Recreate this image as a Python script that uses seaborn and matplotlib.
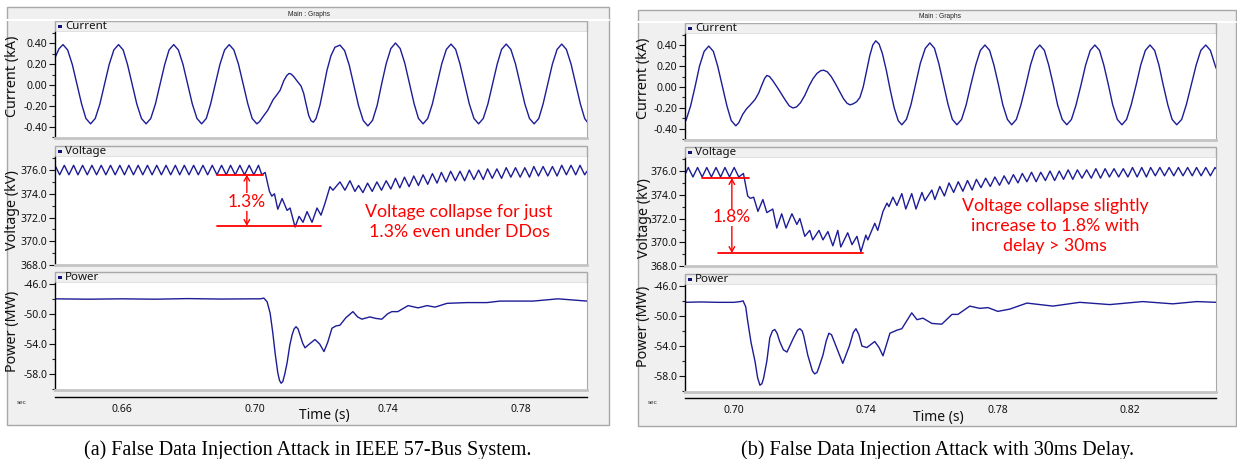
import numpy as np
import pandas as pd
import seaborn as sns
import matplotlib
matplotlib.use("Agg")
import matplotlib.pyplot as plt
from matplotlib.patches import Rectangle
from matplotlib.ticker import MultipleLocator, FormatStrFormatter

# ---------------- data ----------------
# Panel (a): FDI attack, IEEE 57-bus
cur_a_t = [0.6400, 0.6412,
           0.6424, 0.6438, 0.6452, 0.6466, 0.6480, 0.6493, 0.6507, 0.6521, 0.6535, 0.6549,
           0.6563, 0.6577, 0.6591, 0.6605, 0.6618, 0.6632, 0.6646, 0.6660, 0.6674, 0.6688,
           0.6702, 0.6716, 0.6730, 0.6743, 0.6757, 0.6771, 0.6785, 0.6799, 0.6813, 0.6827,
           0.6841, 0.6855, 0.6868, 0.6882, 0.6896, 0.6910, 0.6924, 0.6938, 0.6952, 0.6966,
           0.6980, 0.6993, 0.7007,
           0.7015, 0.7026, 0.7040, 0.7056, 0.7068, 0.7077, 0.7088, 0.7097, 0.7104, 0.7110,
           0.7118, 0.7130, 0.7140, 0.7148, 0.7155, 0.7163, 0.7170, 0.7177, 0.7185, 0.7197,
           0.7208, 0.7218, 0.7230, 0.7242,
           0.7257, 0.7271, 0.7285, 0.7299, 0.7313, 0.7327, 0.7341, 0.7355, 0.7369, 0.7382,
           0.7396, 0.7410, 0.7424, 0.7438, 0.7452, 0.7466, 0.7480, 0.7493, 0.7507, 0.7521,
           0.7535, 0.7549, 0.7563, 0.7577, 0.7591, 0.7605, 0.7618, 0.7632, 0.7646, 0.7660,
           0.7674, 0.7688, 0.7702, 0.7716, 0.7730, 0.7743, 0.7757, 0.7771, 0.7785, 0.7799,
           0.7813, 0.7827, 0.7841, 0.7855, 0.7868, 0.7882, 0.7896, 0.7910, 0.7924, 0.7938,
           0.7952, 0.7966, 0.7980, 0.7993, 0.8000]
cur_a_v = [0.260, 0.345,
           0.385, 0.334, 0.196, 0.008, -0.181, -0.319, -0.370, -0.319, -0.181, 0.008,
           0.196, 0.334, 0.385, 0.334, 0.196, 0.008, -0.181, -0.319, -0.370, -0.319,
           -0.181, 0.008, 0.196, 0.334, 0.385, 0.334, 0.196, 0.008, -0.181, -0.319,
           -0.370, -0.319, -0.181, 0.008, 0.196, 0.334, 0.385, 0.334, 0.196, 0.008,
           -0.181, -0.319, -0.370,
           -0.350, -0.300, -0.240, -0.140, -0.090, -0.050, 0.040, 0.090, 0.110, 0.105,
           0.080, 0.030, -0.010, -0.080, -0.180, -0.290, -0.340, -0.355, -0.320, -0.190,
           -0.020, 0.140, 0.280, 0.360,
           0.380, 0.328, 0.188, -0.005, -0.198, -0.338, -0.390, -0.337, -0.193, 0.005,
           0.203, 0.347, 0.400, 0.348, 0.208, 0.015, -0.178, -0.318, -0.370, -0.319,
           -0.180, 0.010, 0.200, 0.339, 0.390, 0.339, 0.200, 0.010, -0.180, -0.319,
           -0.370, -0.319, -0.180, 0.010, 0.200, 0.339, 0.390, 0.339, 0.200, 0.010,
           -0.180, -0.319, -0.370, -0.319, -0.180, 0.010, 0.200, 0.339, 0.390, 0.339,
           0.200, 0.010, -0.180, -0.319, -0.350]

volt_a_t = [0.6400, 0.6414, 0.6428, 0.6442, 0.6456, 0.6469, 0.6483, 0.6497, 0.6511, 0.6525,
            0.6539, 0.6553, 0.6567, 0.6581, 0.6595, 0.6609, 0.6622, 0.6636, 0.6650, 0.6664,
            0.6678, 0.6692, 0.6706, 0.6720, 0.6734, 0.6748, 0.6762, 0.6775, 0.6789, 0.6803,
            0.6817, 0.6831, 0.6845, 0.6859, 0.6873, 0.6887, 0.6901, 0.6915, 0.6928, 0.6942,
            0.6956, 0.6970, 0.6984, 0.6998, 0.7012, 0.7022, 0.7032, 0.7045, 0.7052, 0.7060,
            0.7070, 0.7083, 0.7098, 0.7107, 0.7122, 0.7134, 0.7146, 0.7158, 0.7173, 0.7188,
            0.7200, 0.7212, 0.7227, 0.7236, 0.7257, 0.7272, 0.7287, 0.7302, 0.7313, 0.7326,
            0.7340, 0.7354, 0.7368, 0.7382, 0.7396, 0.7410, 0.7424, 0.7437, 0.7451, 0.7465,
            0.7479, 0.7493, 0.7507, 0.7521, 0.7535, 0.7549, 0.7562, 0.7576, 0.7590, 0.7604,
            0.7618, 0.7632, 0.7646, 0.7660, 0.7674, 0.7688, 0.7701, 0.7715, 0.7729, 0.7743,
            0.7757, 0.7771, 0.7785, 0.7799, 0.7813, 0.7827, 0.7840, 0.7854, 0.7868, 0.7882,
            0.7896, 0.7910, 0.7924, 0.7938, 0.7952, 0.7966, 0.7979, 0.7993, 0.8000]
volt_a_v = [376.4, 375.6, 376.4, 375.6, 376.4, 375.6, 376.4, 375.6, 376.4, 375.6,
            376.4, 375.6, 376.4, 375.6, 376.4, 375.6, 376.4, 375.6, 376.4, 375.6,
            376.4, 375.6, 376.4, 375.6, 376.4, 375.6, 376.4, 375.6, 376.4, 375.6,
            376.4, 375.6, 376.4, 375.6, 376.4, 375.6, 376.4, 375.6, 376.4, 375.6,
            376.4, 375.6, 376.4, 375.6, 376.4, 375.6, 375.8, 374.2, 373.8, 374.0,
            372.7, 373.6, 372.6, 372.8, 371.2, 372.1, 371.6, 372.5, 371.6, 372.8,
            372.2, 373.2, 374.6, 374.3, 375.0, 374.3, 375.1, 374.2, 374.7, 374.1,
            374.9, 374.2, 375.0, 374.3, 375.1, 374.4, 375.3, 374.5, 375.4, 374.6,
            375.5, 374.7, 375.6, 374.8, 375.7, 374.9, 375.8, 375.0, 375.9, 375.1,
            375.9, 375.1, 376.0, 375.2, 376.0, 375.2, 376.1, 375.3, 376.1, 375.3,
            376.2, 375.4, 376.2, 375.4, 376.2, 375.4, 376.3, 375.5, 376.3, 375.5,
            376.3, 375.5, 376.4, 375.6, 376.4, 375.6, 376.4, 375.6, 375.9]

pow_a_t = [0.6400, 0.6500, 0.6600, 0.6700, 0.6800, 0.6900, 0.7000, 0.7018, 0.7028, 0.7038,
           0.7047, 0.7055, 0.7062, 0.7070, 0.7075, 0.7080, 0.7085, 0.7091, 0.7098, 0.7106,
           0.7113, 0.7119, 0.7125, 0.7131, 0.7137, 0.7145, 0.7152, 0.7165, 0.7182, 0.7196,
           0.7209, 0.7220, 0.7233, 0.7245, 0.7257, 0.7275, 0.7296, 0.7310, 0.7323, 0.7347,
           0.7365, 0.7383, 0.7400, 0.7413, 0.7431, 0.7462, 0.7492, 0.7519, 0.7543, 0.7579,
           0.7639, 0.7699, 0.7738, 0.7838, 0.7913, 0.8000]
pow_a_v = [-48.0, -48.05, -48.0, -48.05, -47.97, -48.03, -48.0, -48.0, -47.9, -48.4,
           -49.9, -52.5, -55.2, -57.8, -58.8, -59.2, -59.0, -58.0, -56.5, -54.2,
           -52.8, -52.0, -51.7, -52.0, -52.8, -53.9, -54.5, -54.0, -53.4, -54.0,
           -55.0, -53.8, -51.9, -51.6, -51.5, -50.5, -49.7, -50.4, -50.7, -50.4,
           -50.6, -50.7, -50.0, -49.7, -49.7, -48.9, -49.2, -48.9, -49.1, -48.6,
           -48.5, -48.5, -48.3, -48.3, -48.0, -48.3]

# Panel (b): FDI attack with 30 ms delay
cur_b_t = [0.6852, 0.6855, 0.6869, 0.6883, 0.6896, 0.6910, 0.6924, 0.6938, 0.6951, 0.6965,
           0.6979, 0.6992, 0.7006,
           0.7015, 0.7027, 0.7038, 0.7050, 0.7064, 0.7075, 0.7085, 0.7093, 0.7100, 0.7108,
           0.7118, 0.7133, 0.7145, 0.7157, 0.7168, 0.7179, 0.7190, 0.7202, 0.7215, 0.7228,
           0.7240, 0.7252, 0.7263, 0.7272, 0.7283, 0.7295, 0.7308, 0.7320, 0.7332, 0.7343,
           0.7352, 0.7362, 0.7372, 0.7382, 0.7392, 0.7402, 0.7412, 0.7421, 0.7430, 0.7440,
           0.7450, 0.7462, 0.7474, 0.7486, 0.7498, 0.7509,
           0.7523, 0.7537, 0.7551, 0.7565, 0.7580, 0.7594, 0.7608, 0.7621, 0.7635, 0.7649,
           0.7662, 0.7676, 0.7690, 0.7704, 0.7718, 0.7733, 0.7747, 0.7761, 0.7775, 0.7788,
           0.7802, 0.7815, 0.7829, 0.7842, 0.7856, 0.7870, 0.7885, 0.7899, 0.7913, 0.7927,
           0.7941, 0.7954, 0.7968, 0.7981, 0.7995, 0.8009, 0.8023, 0.8037, 0.8052, 0.8066,
           0.8080, 0.8094, 0.8108, 0.8121, 0.8135, 0.8148, 0.8162, 0.8176, 0.8190, 0.8204,
           0.8219, 0.8233, 0.8247, 0.8261, 0.8275, 0.8288, 0.8301, 0.8315, 0.8328, 0.8342,
           0.8357, 0.8371, 0.8386, 0.8401, 0.8415, 0.8430, 0.8444, 0.8458, 0.8461]
cur_b_v = [-0.315, -0.319, -0.180, 0.010, 0.200, 0.339, 0.390, 0.339, 0.200, 0.010,
           -0.180, -0.319, -0.370,
           -0.340, -0.260, -0.210, -0.170, -0.120, -0.060, 0.020, 0.080, 0.110, 0.100,
           0.060, -0.010, -0.070, -0.130, -0.180, -0.200, -0.190, -0.150, -0.080, 0.010,
           0.080, 0.130, 0.155, 0.160, 0.145, 0.100, 0.030, -0.040, -0.110, -0.155,
           -0.170, -0.160, -0.140, -0.100, 0.000, 0.150, 0.300, 0.400, 0.440, 0.410,
           0.320, 0.160, -0.030, -0.200, -0.320, -0.360,
           -0.308, -0.165, 0.030, 0.225, 0.368, 0.420, 0.368, 0.225, 0.030, -0.165,
           -0.308, -0.360, -0.309, -0.170, 0.020, 0.210, 0.349, 0.400, 0.349, 0.210,
           0.020, -0.170, -0.309, -0.360, -0.309, -0.170, 0.020, 0.210, 0.349, 0.400,
           0.349, 0.210, 0.020, -0.170, -0.309, -0.360, -0.309, -0.170, 0.020, 0.210,
           0.349, 0.400, 0.349, 0.210, 0.020, -0.170, -0.309, -0.360, -0.309, -0.170,
           0.020, 0.210, 0.349, 0.400, 0.349, 0.210, 0.020, -0.170, -0.309, -0.360,
           -0.309, -0.170, 0.020, 0.210, 0.349, 0.400, 0.349, 0.210, 0.180]

volt_b_t = [0.6852, 0.6862, 0.6876, 0.6890, 0.6904, 0.6918, 0.6932, 0.6946, 0.6960, 0.6973,
            0.6987, 0.7001, 0.7015, 0.7029, 0.7042, 0.7050, 0.7060, 0.7073, 0.7088, 0.7100,
            0.7118, 0.7130, 0.7145, 0.7158, 0.7176, 0.7191, 0.7200, 0.7215, 0.7230, 0.7239,
            0.7258, 0.7270, 0.7285, 0.7300, 0.7315, 0.7324, 0.7345, 0.7358, 0.7373, 0.7385,
            0.7400, 0.7406, 0.7427, 0.7436, 0.7452, 0.7464, 0.7470, 0.7482, 0.7494, 0.7509,
            0.7521, 0.7539, 0.7552, 0.7570, 0.7579, 0.7600, 0.7609, 0.7624, 0.7638, 0.7652,
            0.7666, 0.7680, 0.7694, 0.7708, 0.7722, 0.7735, 0.7749, 0.7763, 0.7777, 0.7791,
            0.7805, 0.7819, 0.7833, 0.7847, 0.7861, 0.7874, 0.7888, 0.7902, 0.7916, 0.7930,
            0.7944, 0.7958, 0.7972, 0.7986, 0.7999, 0.8013, 0.8027, 0.8041, 0.8055, 0.8069,
            0.8083, 0.8097, 0.8111, 0.8125, 0.8138, 0.8152, 0.8166, 0.8180, 0.8194, 0.8208,
            0.8222, 0.8236, 0.8250, 0.8263, 0.8277, 0.8291, 0.8305, 0.8319, 0.8333, 0.8347,
            0.8361, 0.8375, 0.8389, 0.8402, 0.8416, 0.8430, 0.8444, 0.8458, 0.8461]
volt_b_v = [375.7, 376.3, 375.5, 376.3, 375.5, 376.3, 375.5, 376.3, 375.5, 376.3,
            375.5, 376.3, 375.5, 375.8, 373.9, 373.7, 373.8, 372.6, 373.6, 372.5,
            372.8, 371.2, 372.4, 371.2, 372.4, 371.5, 372.0, 370.5, 371.0, 370.2,
            371.0, 370.2, 370.9, 369.7, 371.0, 369.6, 370.8, 369.8, 370.5, 369.2,
            370.6, 370.2, 371.6, 371.0, 372.6, 373.3, 373.0, 373.8, 373.1, 374.1,
            372.8, 374.1, 372.8, 374.2, 373.5, 374.4, 373.6, 374.7, 373.9, 375.0,
            374.2, 375.1, 374.3, 375.2, 374.4, 375.3, 374.6, 375.4, 374.7, 375.5,
            374.8, 375.6, 374.9, 375.7, 375.0, 375.8, 375.1, 375.9, 375.1, 375.9,
            375.2, 376.0, 375.2, 376.0, 375.3, 376.1, 375.3, 376.1, 375.4, 376.1,
            375.4, 376.2, 375.4, 376.2, 375.5, 376.2, 375.5, 376.2, 375.5, 376.3,
            375.5, 376.3, 375.5, 376.3, 375.6, 376.3, 375.6, 376.3, 375.6, 376.3,
            375.6, 376.3, 375.6, 376.3, 375.6, 376.3, 375.6, 376.3, 376.2]

pow_b_t = [0.6852, 0.6900, 0.6950, 0.7000, 0.7020, 0.7028, 0.7036, 0.7042, 0.7052, 0.7064,
           0.7072, 0.7079, 0.7085, 0.7090, 0.7100, 0.7109, 0.7117, 0.7124, 0.7131, 0.7139,
           0.7150, 0.7161, 0.7180, 0.7193, 0.7200, 0.7207, 0.7212, 0.7224, 0.7238, 0.7245,
           0.7252, 0.7258, 0.7270, 0.7280, 0.7288, 0.7296, 0.7305, 0.7330, 0.7350, 0.7362,
           0.7370, 0.7379, 0.7388, 0.7403, 0.7427, 0.7440, 0.7452, 0.7473, 0.7494, 0.7509,
           0.7539, 0.7555, 0.7573, 0.7600, 0.7630, 0.7661, 0.7679, 0.7715, 0.7745, 0.7770,
           0.7800, 0.7836, 0.7888, 0.7967, 0.8048, 0.8139, 0.8239, 0.8330, 0.8403, 0.8461]
pow_b_v = [-48.2, -48.15, -48.2, -48.2, -48.1, -48.0, -48.8, -50.7, -53.5, -56.0,
           -58.2, -59.2, -59.0, -58.3, -56.0, -52.9, -52.0, -51.8, -52.3, -53.4,
           -54.5, -54.8, -53.0, -51.9, -51.7, -52.0, -52.7, -55.2, -57.3, -57.7,
           -57.5, -56.8, -55.2, -53.3, -52.3, -52.5, -53.5, -56.3, -54.0, -52.2,
           -51.7, -52.5, -54.0, -54.2, -53.4, -54.2, -55.3, -52.3, -51.9, -51.7,
           -49.6, -50.5, -50.3, -51.0, -51.1, -49.8, -49.8, -48.7, -49.0, -48.9,
           -49.4, -49.1, -48.3, -48.7, -48.2, -48.5, -48.1, -48.4, -48.1, -48.2]

# axis ticks / labels
time_ticks_a = [0.64, 0.66, 0.68, 0.70, 0.72, 0.74, 0.76, 0.78, 0.80]
time_labels_a = ["", "0.66", "", "0.70", "", "0.74", "", "0.78", ""]
time_ticks_b = [0.70, 0.72, 0.74, 0.76, 0.78, 0.80, 0.82, 0.84]
time_labels_b = ["0.70", "", "0.74", "", "0.78", "", "0.82", ""]
cur_ticks = [-0.40, -0.20, 0.00, 0.20, 0.40]
volt_ticks = [368.0, 370.0, 372.0, 374.0, 376.0]
pow_ticks = [-58.0, -54.0, -50.0, -46.0]

# annotations (kV levels and times)
ann_a = dict(upper=375.6, lower=371.3, up_span=(0.6887, 0.7026), lo_span=(0.6887, 0.7200),
             arrow_t=0.6977, pct="1.3%", pct_v=373.3,
             text="Voltage collapse for just\n1.3% even under DDos", text_t=0.7615, text_v=371.6)
ann_b = dict(upper=375.4, lower=369.1, up_span=(0.6903, 0.7045), lo_span=(0.6952, 0.7391),
             arrow_t=0.6994, pct="1.8%", pct_v=372.1,
             text="Voltage collapse slightly\nincrease to 1.8% with\ndelay > 30ms", text_t=0.7973, text_v=371.4)

# ---------------- figure ----------------
sns.set_style("white")
plt.rcParams["font.family"] = ["Noto Sans", "DejaVu Sans"]

W, H = 1237, 459
fig = plt.figure(figsize=(W / 100, H / 100), dpi=100)
fig.patch.set_facecolor("white")

bg = fig.add_axes([0, 0, 1, 1])
bg.set_xlim(0, W)
bg.set_ylim(H, 0)
bg.axis("off")

NAVY = "#1c1c96"
RED = "#ff0000"
GRAYBG = "#f0f0f0"
EDGE = "#a8a8a8"


def pax(x0, y0, x1, y1):
    return fig.add_axes([x0 / W, 1 - y1 / H, (x1 - x0) / W, (y1 - y0) / H])


panels = [
    dict(frame=(7, 7, 609, 425), header=(7, 20), header_x=309, px=(55, 587),
         rows=[(21, 32, 138), (146, 157, 265), (272, 283, 390)], xaxis_y=397,
         xlim=(0.64, 0.80), ticks=time_ticks_a, labels=time_labels_a,
         cur=(cur_a_t, cur_a_v), volt=(volt_a_t, volt_a_v), pw=(pow_a_t, pow_a_v),
         ylab_x=13, ylab_y=[76, 210, 331], sec=(22, 402), timelab=(324, 416),
         ann=ann_a, caption="(a) False Data Injection Attack in IEEE 57-Bus System.", cap_x=308),
    dict(frame=(638, 10, 1236, 426), header=(10, 22), header_x=940, px=(685, 1216),
         rows=[(23, 34, 140), (147, 158, 266), (274, 285, 392)], xaxis_y=398,
         xlim=(0.6852, 0.8461), ticks=time_ticks_b, labels=time_labels_b,
         cur=(cur_b_t, cur_b_v), volt=(volt_b_t, volt_b_v), pw=(pow_b_t, pow_b_v),
         ylab_x=644, ylab_y=[78, 218, 326], sec=(653, 403), timelab=(938, 417),
         ann=ann_b, caption="(b) False Data Injection Attack with 30ms Delay.", cap_x=938),
]

row_specs = [
    ("Current", "Current (kA)", "cur", (-0.505, 0.505), cur_ticks, 0.1, "%.2f"),
    ("Voltage", "Voltage (kV)", "volt", (368.0, 377.1), volt_ticks, 1.0, "%.1f"),
    ("Power", "Power (MW)", "pw", (-60.1, -45.9), pow_ticks, 2.0, "%.1f"),
]

for p in panels:
    fx0, fy0, fx1, fy1 = p["frame"]
    bg.add_patch(Rectangle((fx0, fy0), fx1 - fx0, fy1 - fy0, facecolor=GRAYBG,
                           edgecolor=EDGE, lw=1.0))
    hy0, hy1 = p["header"]
    bg.plot([fx0, fx1], [hy1, hy1], color="white", lw=1.5)
    bg.text(p["header_x"], (hy0 + hy1) / 2 + 0.5, "Main : Graphs", fontsize=4.8,
            ha="center", va="center", color="#222222", family=["Liberation Sans"])
    px0, px1 = p["px"]
    for (title, ylab, key, ylim, yt, minor, fmt), (ty0, ty1, py1), ly in zip(
            row_specs, p["rows"], p["ylab_y"]):
        # title bar
        bg.add_patch(Rectangle((px0, ty0), px1 - px0, ty1 - ty0, facecolor=GRAYBG,
                               edgecolor=EDGE, lw=1.0))
        bg.add_patch(Rectangle((px0 + 3, (ty0 + ty1) / 2 - 1.5), 3.5, 3,
                               facecolor="#10107a", edgecolor="none"))
        bg.text(px0 + 10, (ty0 + ty1) / 2 + 0.3, title, fontsize=8.3, ha="left",
                va="center", color="#111111")
        bg.text(p["ylab_x"], ly, ylab, fontsize=10.3, rotation=90, ha="center",
                va="center", color="#111111")
        ax = pax(px0, ty1, px1, py1)
        ax.set_facecolor("white")
        t, v = p[key]
        sns.lineplot(x=t, y=v, ax=ax, color=NAVY, lw=1.0, estimator=None, sort=False)
        ax.set_xlim(*p["xlim"])
        ax.set_ylim(*ylim)
        ax.set_xticks([])
        ax.set_xlabel("")
        ax.set_ylabel("")
        ax.set_yticks(yt)
        ax.yaxis.set_major_formatter(FormatStrFormatter(fmt))
        ax.yaxis.set_minor_locator(MultipleLocator(minor))
        ax.tick_params(axis="y", which="major", direction="out", length=4, width=0.8,
                       labelsize=7.5, pad=1.5, colors="#111111", left=True)
        ax.tick_params(axis="y", which="minor", direction="out", length=2.5, width=0.8,
                       left=True)
        ax.spines["top"].set_visible(False)
        ax.spines["left"].set_color("black")
        ax.spines["left"].set_linewidth(1.0)
        ax.spines["right"].set_color(EDGE)
        ax.spines["right"].set_linewidth(0.8)
        ax.spines["bottom"].set_color("#c4c4c4")
        ax.spines["bottom"].set_linewidth(2.0)

        if key == "volt":
            a = p["ann"]
            ax.plot(a["up_span"], [a["upper"], a["upper"]], color=RED, lw=1.3)
            ax.plot(a["lo_span"], [a["lower"], a["lower"]], color=RED, lw=1.3)
            ax.annotate("", xy=(a["arrow_t"], a["lower"]), xytext=(a["arrow_t"], a["upper"]),
                        arrowprops=dict(arrowstyle="<->,head_length=0.35,head_width=0.2",
                                        color=RED, lw=1.0, shrinkA=0, shrinkB=0))
            ax.text(a["arrow_t"], a["pct_v"], a["pct"], color=RED, fontsize=12.5,
                    ha="center", va="center", family=["Lato"],
                    bbox=dict(facecolor="white", edgecolor="none", pad=0.5))
            ax.text(a["text_t"], a["text_v"], a["text"], color=RED, fontsize=12.8,
                    ha="center", va="center", family=["Lato"], linespacing=1.3)

    # time axis strip
    ay = p["xaxis_y"]
    xa = pax(px0, ay - 1, px1, ay)
    xa.patch.set_alpha(0)
    xa.set_xlim(*p["xlim"])
    xa.set_yticks([])
    for s in ["top", "left", "right"]:
        xa.spines[s].set_visible(False)
    xa.spines["bottom"].set_color("black")
    xa.spines["bottom"].set_linewidth(1.0)
    xa.set_xticks(p["ticks"])
    xa.set_xticklabels(p["labels"])
    xa.tick_params(axis="x", direction="out", length=3, width=0.8, labelsize=7.5,
                   pad=2, colors="#111111")
    bg.text(p["sec"][0], p["sec"][1], "sec", fontsize=4.5, ha="center", va="center",
            color="#333333", family=["Liberation Sans"])
    bg.text(p["timelab"][0], p["timelab"][1], "Time (s)", fontsize=10, ha="center",
            va="center", color="#111111")
    bg.text(p["cap_x"], 450, p["caption"], fontsize=14.5, ha="center", va="center",
            family=["Liberation Serif"], color="black")

fig.savefig("out.png", dpi=100, facecolor="white")
